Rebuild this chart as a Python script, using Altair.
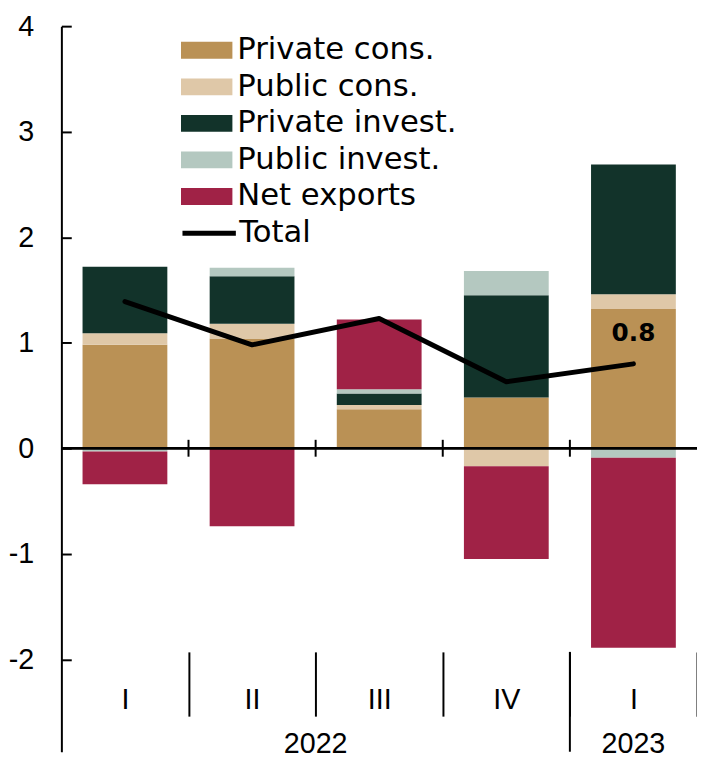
import altair as alt
import pandas as pd

# ---- data ----
quarters = ["2022-I", "2022-II", "2022-III", "2022-IV", "2023-I"]
components = ["Private cons.", "Public cons.", "Private invest.", "Public invest.", "Net exports"]
private_cons = [0.98, 1.04, 0.37, 0.48, 1.32]
public_cons = [0.11, 0.14, 0.04, -0.17, 0.14]
private_invest = [0.63, 0.45, 0.11, 0.97, 1.23]
public_invest = [-0.03, 0.08, 0.04, 0.23, -0.09]
net_exports = [-0.31, -0.74, 0.66, -0.88, -1.80]
total = [1.39, 0.98, 1.23, 0.63, 0.80]
years = ["2022", "2023"]
year_anchor = ["2022-III", "2023-I"]
y_ticks = [-2, -1, 0, 1, 2, 3, 4]
colors = ["#BA9155", "#DFC8A8", "#12332A", "#B4C8C0", "#A02246"]

series = [private_cons, public_cons, private_invest, public_invest, net_exports]
rows = []
for j, (comp, vals) in enumerate(zip(components, series)):
    for q, v in zip(quarters, vals):
        rows.append({"q": q, "comp": comp, "idx": j, "value": v})
bars_df = pd.DataFrame(rows)
line_df = pd.DataFrame({"q": quarters, "total": total, "series": ["Total"] * len(quarters)})
bound_df = pd.DataFrame({"q": quarters[1:]})
year_df = pd.DataFrame({"year": years, "q": year_anchor})

W = 643
H = 734
PX_PER_UNIT = 106.75
y_min = 4 - H / PX_PER_UNIT
AXIS_Y = 633  # quarter axis line, px from plot top

xscale = alt.Scale(type="band", domain=quarters, paddingInner=0, paddingOuter=0)
yscale = alt.Scale(domain=[y_min, 4], nice=False, zero=False)

LAB_FONT = "Liberation Sans"
LEG_FONT = "DejaVu Sans"

bars = alt.Chart(bars_df).mark_bar(width=alt.RelativeBandSize(0.667)).encode(
    x=alt.X("q:N", scale=xscale, sort=quarters,
            axis=alt.Axis(orient="bottom", offset=AXIS_Y - H, domain=False, ticks=True,
                          tickBand="extent", tickSize=65, tickWidth=2, tickColor="black",
                          tickOpacity={"condition": {"test": "datum.extra", "value": 0}, "value": 1},
                          labelPadding=-31, labelFont=LAB_FONT, labelFontSize=29,
                          labelColor="black", labelAngle=0,
                          labelExpr="split(datum.value, '-')[1]", title=None, grid=False)),
    y=alt.Y("value:Q", stack="zero", scale=yscale,
            axis=alt.Axis(orient="left", values=y_ticks, ticks=False, tickSize=0,
                          domain=True, domainColor="black", domainWidth=2,
                          labelFont=LAB_FONT, labelFontSize=29, labelPadding=28,
                          labelExpr="'' + datum.value",
                          labelColor="black", title=None, grid=False)),
    fill=alt.Fill("comp:N", scale=alt.Scale(domain=components, range=colors),
                  legend=alt.Legend(orient="none", legendX=121, legendY=6, title=None,
                                    symbolType="M-1,-0.327L1,-0.327L1,0.327L-1,0.327Z",
                                    symbolSize=2704, symbolStrokeWidth=0,
                                    labelFont=LEG_FONT, labelFontSize=31, labelColor="black",
                                    labelOffset=5, rowPadding=0, clipHeight=36.7,
                                    labelLimit=0)),
    order=alt.Order("idx:Q", sort="ascending"),
)

zero_line = alt.Chart(line_df).mark_rule(color="black", strokeWidth=2).encode(
    y=alt.datum(0, scale=yscale, axis=None)
)

zero_ticks = alt.Chart(bound_df).mark_rule(color="black", strokeWidth=2).encode(
    x=alt.X("q:N", scale=xscale, sort=quarters, bandPosition=0, axis=None),
    y=alt.datum(0.08, axis=None),
    y2=alt.datum(-0.08),
)

year_sep = alt.Chart(year_df.iloc[1:]).mark_rule(color="black", strokeWidth=2).encode(
    x=alt.X("q:N", scale=xscale, sort=quarters, bandPosition=0, axis=None),
    y=alt.value(AXIS_Y),
    y2=alt.value(H),
)

line = alt.Chart(line_df).mark_line(strokeWidth=5, strokeCap="round", strokeJoin="round").encode(
    x=alt.X("q:N", scale=xscale, sort=quarters, axis=None),
    y=alt.Y("total:Q", scale=yscale,
            axis=alt.Axis(orient="right", offset=-W, domain=False, labels=False, ticks=True,
                          tickSize=10, tickWidth=2, tickColor="black", values=y_ticks,
                          title=None, grid=False)),
    stroke=alt.Stroke("series:N", scale=alt.Scale(domain=["Total"], range=["black"]),
                      legend=alt.Legend(orient="none", legendX=120, legendY=180, title=None,
                                        symbolType="stroke", symbolSize=2916,
                                        symbolStrokeWidth=5, labelFont=LEG_FONT,
                                        labelFontSize=31, labelColor="black", labelOffset=1,
                                        labelLimit=0)),
)

last_label = alt.Chart(line_df.iloc[[-1]]).mark_text(
    font=LEG_FONT, fontWeight="bold", fontSize=25, color="black", dy=-31, baseline="middle"
).encode(
    x=alt.X("q:N", scale=xscale, sort=quarters, axis=None),
    y=alt.Y("total:Q", scale=yscale, axis=None),
    text=alt.Text("total:Q", format=".1f"),
)

year_2022 = alt.Chart(year_df.iloc[[0]]).mark_text(
    font=LAB_FONT, fontSize=29, color="black", baseline="middle"
).encode(
    x=alt.X("q:N", scale=xscale, sort=quarters, bandPosition=0, axis=None),
    y=alt.value(726),
    text="year:N",
)

year_2023 = alt.Chart(year_df.iloc[[1]]).mark_text(
    font=LAB_FONT, fontSize=29, color="black", baseline="middle"
).encode(
    x=alt.X("q:N", scale=xscale, sort=quarters, axis=None),
    y=alt.value(726),
    text="year:N",
)

chart = alt.layer(
    bars, zero_line, zero_ticks, year_sep, line, last_label, year_2022, year_2023
).resolve_axis(y="independent", x="independent").resolve_legend(
    fill="independent", stroke="independent"
).properties(
    width=W, height=H,
    autosize=alt.AutoSizeParams(type="none"),
    padding={"left": 54, "top": 14, "right": 0, "bottom": 4},
    background="white",
).configure_view(stroke=None)

chart.save("out.html", embed_options={"renderer": "svg", "actions": False})
